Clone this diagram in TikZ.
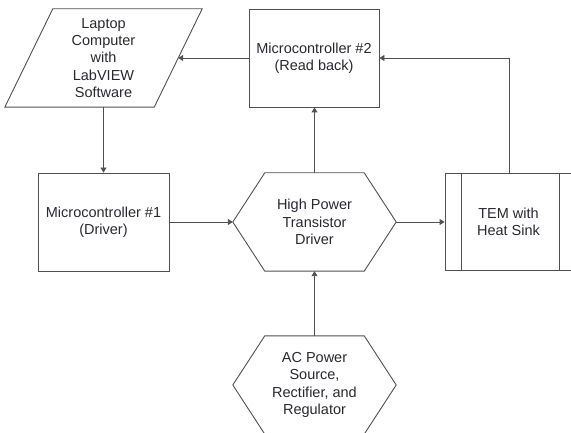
\documentclass[tikz,border=0pt]{standalone}
\usepackage{fontspec}
\setmainfont{Liberation Sans}
\usetikzlibrary{arrows.meta,calc}
\definecolor{lncol}{RGB}{80,80,80}
\definecolor{txcol}{RGB}{40,40,48}
\begin{document}
\begin{tikzpicture}[x=1pt,y=-1pt,
  box/.style={rectangle,inner sep=0pt,align=center,text=txcol,
    font=\fontsize{14.5}{17.4}\selectfont},
  outline/.style={draw=lncol,line width=0.9pt,line join=miter},
  arr/.style={draw=lncol,line width=0.9pt,-{Triangle[length=5pt,width=6pt]}}]
\useasboundingbox (0,0) rectangle (571,433);
% nodes
\node[box,minimum width=197pt,minimum height=98pt] (lap) at (103.5,58) {Laptop\\Computer\\with\\LabVIEW\\Software};
\node[box,outline,minimum width=130pt,minimum height=98pt] (mc2) at (314,58) {Microcontroller \#2\\(Read back)};
\node[box,outline,minimum width=131pt,minimum height=98pt] (mc1) at (103.5,222) {Microcontroller \#1\\(Driver)};
\node[box,minimum width=163pt,minimum height=98pt] (hpd) at (314.5,222) {High Power\\Transistor\\Driver};
\node[box,outline,minimum width=127pt,minimum height=97pt] (tem) at (508.5,222) {TEM with\\Heat Sink};
\node[box,minimum width=163pt,minimum height=98pt] (ac) at (314.5,385) {AC Power\\Source,\\Rectifier, and\\Regulator};
% shape outlines
\draw[outline] ($(lap.north west)+(48,0)$) -- (lap.north east) -- ($(lap.south east)+(-48,0)$) -- (lap.south west) -- cycle;
\draw[outline] ($(hpd.north west)+(32,0)$) -- ($(hpd.north east)+(-32,0)$) -- (hpd.east) -- ($(hpd.south east)+(-32,0)$) -- ($(hpd.south west)+(32,0)$) -- (hpd.west) -- cycle;
\draw[outline] ($(ac.north west)+(32,0)$) -- ($(ac.north east)+(-32,0)$) -- (ac.east) -- ($(ac.south east)+(-32,0)$) -- ($(ac.south west)+(32,0)$) -- (ac.west) -- cycle;
\draw[outline] ($(tem.north west)+(17,0)$) -- ($(tem.south west)+(17,0)$);
\draw[outline] ($(tem.north east)+(-13,0)$) -- ($(tem.south east)+(-13,0)$);
% connector anchors
\coordinate (lapR) at ($(lap.east)+(-24,0)$);
\coordinate (temTop) at ($(tem.north west)+(65,0)$);
% connectors
\draw[arr] (mc2.west) -- (lapR);
\draw[arr] (lap.south) -- (lap.south |- mc1.north);
\draw[arr] (mc1.east) -- (hpd.west);
\draw[arr] (hpd.east) -- (hpd.east -| tem.west);
\draw[arr] (hpd.north) -- (hpd.north |- mc2.south);
\draw[arr] (temTop) |- (mc2.east);
\draw[arr] (ac.north) -- (hpd.south);
\end{tikzpicture}
\end{document}
